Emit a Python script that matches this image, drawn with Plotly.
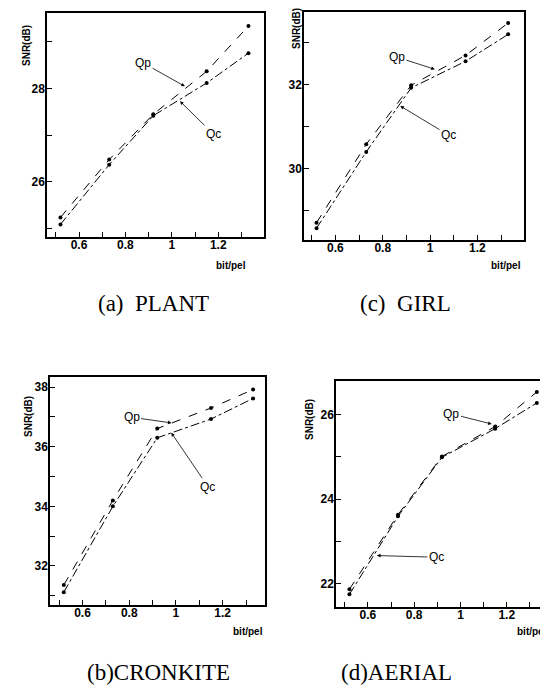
import plotly.graph_objects as go

W, H = 548, 691

# ---- data ----
rate = [0.52, 0.73, 0.92, 1.15, 1.33]
plant_qp = [25.24, 26.48, 27.45, 28.37, 29.34]
plant_qc = [25.09, 26.37, 27.42, 28.12, 28.76]
girl_qp = [28.72, 30.58, 31.98, 32.69, 33.46]
girl_qc = [28.59, 30.40, 31.92, 32.55, 33.19]
cron_qp = [31.36, 34.20, 36.61, 37.30, 37.92]
cron_qc = [31.12, 34.00, 36.30, 36.93, 37.62]
aerial_qp = [21.86, 23.63, 25.01, 25.72, 26.54]
aerial_qc = [21.74, 23.59, 24.99, 25.67, 26.28]

x_ticks = [0.6, 0.8, 1, 1.2]
x_ticktext = ["0.6", "0.8", "1", "1.2"]
captions = ["(a)  PLANT", "(c)  GIRL", "(b)CRONKITE", "(d)AERIAL"]


def px(x):
    return x / W


def py(y):
    return 1 - y / H


panels = [
    dict(qp=plant_qp, qc=plant_qc, box=(39, 256, 5, 229),
         xr=[0.462, 1.397], yr=[24.82, 29.62], yt=[26, 28],
         qp_txt=(0.876, 28.55), qp_head=(1.056, 28.05),
         qc_txt=(1.178, 27.03), qc_head=(1.035, 27.73),
         cap=(145, 295), ylab=(18, 38), xlab=(240, 257)),
    dict(qp=girl_qp, qc=girl_qc, box=(296, 516, 4, 232),
         xr=[0.467, 1.397], yr=[28.31, 33.72], yt=[30, 32],
         qp_txt=(0.86, 32.65), qp_head=(1.02, 32.36),
         qc_txt=(1.078, 30.8), qc_head=(0.874, 31.49),
         cap=(398, 295), ylab=(288, 21), xlab=(515, 257)),
    dict(qp=cron_qp, qc=cron_qc, box=(42, 257, 369, 597),
         xr=[0.461, 1.381], yr=[30.69, 38.34], yt=[32, 34, 36, 38],
         qp_txt=(0.81, 36.99), qp_head=(0.981, 36.8),
         qc_txt=(1.137, 34.66), qc_head=(0.98, 36.47),
         cap=(150, 664), ylab=(20, 409), xlab=(257, 623)),
    dict(qp=aerial_qp, qc=aerial_qc, box=(328, 542, 373, 599),
         xr=[0.462, 1.387], yr=[21.44, 26.8], yt=[22, 24, 26],
         qp_txt=(0.961, 26.02), qp_head=(1.135, 25.78),
         qc_txt=(0.896, 22.62), qc_head=(0.639, 22.66),
         cap=(388, 664), ylab=(302, 412), xlab=(541, 623)),
]

fig = go.Figure()
annotations = []
tickfont = dict(family="Liberation Sans, Arial", size=12, color="black", weight="bold")

for i, p in enumerate(panels):
    n = "" if i == 0 else str(i + 1)
    xa, ya = "x" + n, "y" + n
    fig.add_trace(go.Scatter(
        x=rate, y=p["qp"], mode="lines+markers", xaxis=xa, yaxis=ya,
        line=dict(color="black", width=1, dash="dash"),
        marker=dict(size=4, color="black"), name="Qp", showlegend=False))
    fig.add_trace(go.Scatter(
        x=rate, y=p["qc"], mode="lines+markers", xaxis=xa, yaxis=ya,
        line=dict(color="black", width=1, dash="dashdot"),
        marker=dict(size=4, color="black"), name="Qc", showlegend=False))
    l, r, t, b = p["box"]
    axis_common = dict(showline=True, linecolor="black", linewidth=1.5, mirror=True,
                       ticks="inside", ticklen=5, tickcolor="black", tickwidth=1,
                       showgrid=False, zeroline=False, tickfont=tickfont)
    fig.layout["xaxis" + n] = dict(
        domain=[px(l), px(r)], anchor=ya, range=p["xr"],
        tickvals=x_ticks, ticktext=x_ticktext, ticklabelstandoff=-4,
        minor=dict(dtick=0.1, tick0=0.5, ticks="inside", ticklen=5, tickcolor="black", showgrid=False),
        **axis_common)
    fig.layout["yaxis" + n] = dict(
        domain=[py(b), py(t)], anchor=xa, range=p["yr"],
        tickvals=p["yt"], ticktext=[str(v) for v in p["yt"]], ticklabelstandoff=-2,
        minor=dict(dtick=1, tick0=21, ticks="inside", ticklen=5, tickcolor="black", showgrid=False),
        **axis_common)
    for lbl, txt, head in (("Qp", p["qp_txt"], p["qp_head"]), ("Qc", p["qc_txt"], p["qc_head"])):
        annotations.append(dict(
            text=lbl, x=head[0], y=head[1], ax=txt[0], ay=txt[1],
            xref=xa, yref=ya, axref=xa, ayref=ya,
            showarrow=True, arrowhead=2, arrowsize=0.9, arrowwidth=0.8, arrowcolor="black",
            font=dict(family="Liberation Sans, Arial", size=12, color="black")))
    annotations.append(dict(
        text="SNR(dB)", x=px(p["ylab"][0]), y=py(p["ylab"][1]), xref="paper", yref="paper",
        showarrow=False, textangle=-90, xanchor="center", yanchor="middle",
        font=dict(family="Liberation Sans, Arial", size=10, color="black", weight="bold")))
    annotations.append(dict(
        text="bit/pel", x=px(p["xlab"][0]), y=py(p["xlab"][1]), xref="paper", yref="paper",
        showarrow=False, xanchor="right", yanchor="middle",
        font=dict(family="Liberation Sans, Arial", size=10, color="black", weight="bold")))
    annotations.append(dict(
        text=captions[i].replace("  ", "&nbsp; "), x=px(p["cap"][0]), y=py(p["cap"][1]),
        xref="paper", yref="paper", showarrow=False, xanchor="center", yanchor="middle",
        font=dict(family="Liberation Serif, Times New Roman", size=23, color="black")))

fig.update_layout(
    width=W, height=H, margin=dict(l=0, r=0, t=0, b=0),
    paper_bgcolor="white", plot_bgcolor="white",
    annotations=annotations, showlegend=False)

fig.write_html("out.html")
